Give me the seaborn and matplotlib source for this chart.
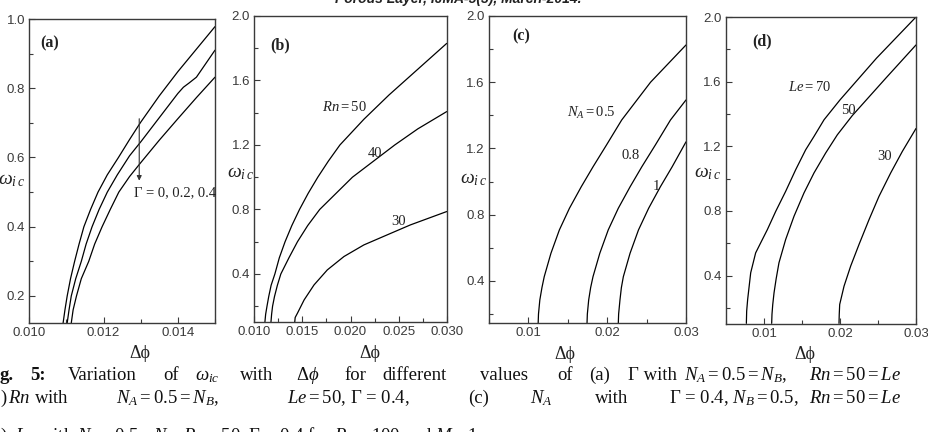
import numpy as np
import pandas as pd
import matplotlib
matplotlib.use("Agg")
import matplotlib.pyplot as plt
from matplotlib.ticker import MultipleLocator, FormatStrFormatter
import seaborn as sns

###############################################################
# values

# (a) Gamma = 0, 0.2, 0.4
a_x_g0 = [0.01091, 0.01096, 0.01102, 0.01111, 0.01122, 0.01134, 0.01147, 0.01165, 0.01185,
          0.0121, 0.0124, 0.0127, 0.0130, 0.0135, 0.0140, 0.0145, 0.0150]
a_y_g0 = [0.122, 0.16, 0.2, 0.25, 0.3, 0.35, 0.4, 0.45, 0.5,
          0.55, 0.6, 0.652, 0.702, 0.778, 0.848, 0.913, 0.978]
a_x_g2 = [0.01102, 0.01107, 0.01113, 0.01125, 0.0114, 0.01153, 0.01169, 0.01188, 0.0121,
          0.01237, 0.0127, 0.0130, 0.0135, 0.0140, 0.01415, 0.0143, 0.0145, 0.0150]
a_y_g2 = [0.122, 0.16, 0.2, 0.25, 0.3, 0.35, 0.4, 0.45, 0.5,
          0.55, 0.605, 0.645, 0.715, 0.785, 0.803, 0.815, 0.832, 0.91]
a_x_g4 = [0.01113, 0.01118, 0.01127, 0.0114, 0.0116, 0.01176, 0.01196, 0.01218, 0.01241,
          0.0127, 0.0130, 0.0135, 0.0140, 0.0145, 0.0150]
a_y_g4 = [0.122, 0.16, 0.2, 0.25, 0.3, 0.35, 0.4, 0.45, 0.5,
          0.545, 0.585, 0.65, 0.712, 0.773, 0.832]

# (b) Rn = 50, 40, 30
b_x_50 = [0.0111, 0.01118, 0.01132, 0.0115, 0.01175, 0.01214, 0.0126, 0.0132, 0.0139,
          0.0147, 0.0156, 0.0166, 0.0177, 0.0189, 0.0214, 0.0240, 0.0270, 0.0300]
b_y_50 = [0.1, 0.15, 0.2, 0.26, 0.33, 0.4, 0.5, 0.6, 0.7,
          0.8, 0.9, 1.0, 1.1, 1.2, 1.36, 1.51, 1.67, 1.83]
b_x_40 = [0.01173, 0.0118, 0.0119, 0.0121, 0.0124, 0.01276, 0.0136, 0.01449, 0.01555,
          0.0168, 0.0185, 0.0202, 0.0224, 0.0246, 0.0270, 0.0300]
b_y_40 = [0.1, 0.15, 0.2, 0.26, 0.33, 0.4, 0.5, 0.6, 0.7,
          0.8, 0.9, 1.0, 1.1, 1.2, 1.3, 1.407]
b_x_30 = [0.0142, 0.01425, 0.01449, 0.01518, 0.01621, 0.01759, 0.01932, 0.02139, 0.0238,
          0.02622, 0.0300]
b_y_30 = [0.1, 0.13, 0.157, 0.239, 0.332, 0.425, 0.508, 0.58, 0.642,
          0.704, 0.787]

# (c) N_A = 0.5, 0.8, 1
c_x_05 = [0.01124, 0.01128, 0.01145, 0.01172, 0.01201, 0.01286, 0.01393, 0.01521, 0.01671,
          0.01821, 0.01991, 0.02184, 0.0255, 0.0300]
c_y_05 = [0.146, 0.2, 0.285, 0.36, 0.426, 0.567, 0.708, 0.839, 0.969,
          1.09, 1.221, 1.372, 1.6, 1.825]
c_x_08 = [0.01744, 0.01748, 0.01765, 0.0179, 0.0182, 0.01906, 0.02013, 0.02141, 0.02291,
          0.0244, 0.02611, 0.02803, 0.0300]
c_y_08 = [0.146, 0.2, 0.285, 0.36, 0.426, 0.567, 0.708, 0.839, 0.969,
          1.09, 1.221, 1.372, 1.493]
c_x_10 = [0.02141, 0.02145, 0.02162, 0.0218, 0.02205, 0.0229, 0.02397, 0.02526, 0.02675,
          0.02825, 0.0300]
c_y_10 = [0.146, 0.2, 0.285, 0.36, 0.426, 0.567, 0.708, 0.839, 0.969,
          1.09, 1.24]

# (d) Le = 70, 50, 30
d_x_70 = [0.00768, 0.00772, 0.00785, 0.00825, 0.0089, 0.00956, 0.01044, 0.01154, 0.01285,
          0.01417, 0.01548, 0.01658, 0.0179, 0.0200, 0.0248, 0.0300]
d_y_70 = [0.104, 0.18, 0.252, 0.417, 0.54, 0.602, 0.684, 0.797, 0.921,
          1.055, 1.178, 1.261, 1.364, 1.487, 1.745, 2.0]
d_x_50 = [0.01101, 0.01105, 0.01115, 0.01132, 0.0116, 0.01197, 0.01285, 0.01395, 0.01526,
          0.01658, 0.01811, 0.01965, 0.02162, 0.0260, 0.0300]
d_y_50 = [0.104, 0.16, 0.22, 0.293, 0.38, 0.479, 0.623, 0.767, 0.911,
          1.035, 1.158, 1.271, 1.39, 1.62, 1.827]
d_x_30 = [0.01987, 0.0199, 0.01996, 0.02053, 0.0214, 0.0225, 0.02382, 0.02513, 0.02667,
          0.0282, 0.0300]
d_y_30 = [0.104, 0.16, 0.221, 0.334, 0.458, 0.592, 0.746, 0.89, 1.035,
          1.168, 1.31]

###############################################################
sns.set_style("ticks")
plt.rcParams["font.family"] = ["Liberation Sans", "DejaVu Sans"]
plt.rcParams["mathtext.fontset"] = "custom"
plt.rcParams["mathtext.rm"] = "Liberation Serif"
plt.rcParams["mathtext.it"] = "Liberation Serif:italic"
plt.rcParams["mathtext.bf"] = "Liberation Serif:bold"

SERIF = ["Liberation Serif", "DejaVu Serif"]
GREY = "#3a3a3a"

fig = plt.figure(figsize=(9.29, 4.32), dpi=100)
W, H = 929.0, 432.0


def add_axes(left, top, right, bottom):
    return fig.add_axes([left / W, 1 - bottom / H, (right - left) / W, (bottom - top) / H])


def style(ax, xlim, ylim, xmaj, xmin, ymaj, ymin, xfmt, yfmt, ylab_pos, xlab_pos):
    ax.set_xlim(xlim)
    ax.set_ylim(ylim)
    ax.xaxis.set_major_locator(MultipleLocator(xmaj))
    ax.xaxis.set_minor_locator(MultipleLocator(xmin))
    ax.yaxis.set_major_locator(MultipleLocator(ymaj))
    ax.yaxis.set_minor_locator(MultipleLocator(ymin))
    ax.xaxis.set_major_formatter(FormatStrFormatter(xfmt))
    ax.yaxis.set_major_formatter(FormatStrFormatter(yfmt))
    ax.tick_params(which="both", direction="in", top=False, right=False,
                   colors=GREY, labelsize=9.5, width=0.8)
    ax.tick_params(which="major", length=4, pad=3)
    ax.tick_params(which="minor", length=3)
    for s in ax.spines.values():
        s.set_color(GREY)
        s.set_linewidth(1.0)
    ax.set_ylabel(r"$\omega_{i\,c}$", rotation=0, fontsize=14, color="#222222")
    ax.yaxis.set_label_coords(*ylab_pos)
    ax.set_xlabel("Δϕ", fontsize=13, family=SERIF, color="#222222")
    ax.xaxis.set_label_coords(*xlab_pos)


def curve(ax, xs, ys):
    sns.lineplot(x=xs, y=ys, ax=ax, color="black", lw=0.9, sort=False, estimator=None)


def note(ax, x, y, s, size=10.5, **kw):
    ax.text(x, y, s, fontsize=size, family=SERIF, color="#222222", ha="left", va="center", **kw)


# (a)
ax = add_axes(29.3, 19, 215, 323)
for xs, ys in [(a_x_g0, a_y_g0), (a_x_g2, a_y_g2), (a_x_g4, a_y_g4)]:
    curve(ax, xs, ys)
style(ax, (0.010, 0.015), (0.122, 1.0), 0.002, 0.001, 0.2, 0.1, "%.3f", "%.1f",
      (-0.093, 0.44), (0.595, -0.074))
ax.annotate("", xy=(0.01296, 0.525), xytext=(0.01296, 0.72),
            arrowprops=dict(arrowstyle="-|>", lw=0.8, color="#333333", mutation_scale=7))
note(ax, 0.01029, 0.93, "(a)", size=11.5, weight="bold")
note(ax, 0.01281, 0.497, "Γ = 0, 0.2, 0.4", size=10.5)

# (b)
ax = add_axes(254.3, 16, 446.7, 322.3)
for xs, ys in [(b_x_50, b_y_50), (b_x_40, b_y_40), (b_x_30, b_y_30)]:
    curve(ax, xs, ys)
style(ax, (0.010, 0.030), (0.1, 2.0), 0.005, 0.0025, 0.4, 0.2, "%.3f", "%.1f",
      (-0.074, 0.458), (0.601, -0.074))
note(ax, 0.01163, 1.82, "(b)", size=11.5, weight="bold")
note(ax, 0.0170, 1.438, r"$Rn = 50$")
note(ax, 0.02182, 1.15, "40")
note(ax, 0.02428, 0.725, "30")

# (c)
ax = add_axes(489, 16, 686, 323)
for xs, ys in [(c_x_05, c_y_05), (c_x_08, c_y_08), (c_x_10, c_y_10)]:
    curve(ax, xs, ys)
style(ax, (0.005, 0.030), (0.146, 2.0), 0.01, 0.005, 0.4, 0.2, "%.2f", "%.1f",
      (-0.077, 0.44), (0.383, -0.074))
note(ax, 0.00794, 1.875, "(c)", size=11.5, weight="bold")
note(ax, 0.0149, 1.412, r"$N_{A} = 0.5$")
note(ax, 0.02182, 1.16, "0.8")
note(ax, 0.0258, 0.97, "1")

# (d)
ax = add_axes(726, 17, 916, 324)
for xs, ys in [(d_x_70, d_y_70), (d_x_50, d_y_50), (d_x_30, d_y_30)]:
    curve(ax, xs, ys)
style(ax, (0.005, 0.030), (0.1, 2.0), 0.01, 0.005, 0.4, 0.2, "%.2f", "%.1f",
      (-0.095, 0.463), (0.416, -0.072))
note(ax, 0.00851, 1.847, "(d)", size=11.5, weight="bold")
note(ax, 0.01316, 1.566, r"$Le = 70$")
note(ax, 0.0202, 1.42, "50")
note(ax, 0.02494, 1.137, "30")

# running header, cut by the top edge
fig.text(458 / W, 1 - 3 / H, "Porous Layer, IJMA-5(3), March-2014.", ha="center",
         va="baseline", fontsize=10, weight="bold", style="italic", color="#222222")

# caption lines (cut at the page edges)
line1 = [(-1, "g.", "bold"), (30, "5:", "bold"), (68, "Variation", "normal"), (163, "of", "normal"),
         (195, r"$\omega_{ic}$", "normal"), (240, "with", "normal"), (296, r"$\Delta\phi$", "normal"),
         (344, "for", "normal"), (382, "different", "normal"), (480, "values", "normal"),
         (557, "of", "normal"), (589, "(a)", "normal"), (628, "Γ with", "normal"),
         (684, r"$N_A = 0.5 = N_B$,", "normal"), (809, r"$Rn = 50 = Le$", "normal")]
line2 = [(0, r")$\,Rn$ with", "normal"), (116, r"$N_A = 0.5 = N_B$,", "normal"),
         (287, r"$Le = 50$, Γ = 0.4,", "normal"), (468, "(c)", "normal"), (530, r"$N_A$", "normal"),
         (595, "with", "normal"), (669, r"Γ = 0.4, $N_B = 0.5$,", "normal"),
         (809, r"$Rn = 50 = Le$", "normal")]
line3 = [(0, r")  $Le$ with $N_A = 0.5 = N_B$, $Rn = 50$, Γ = 0.4 for $Ra = 100$ and $M = 1$.", "normal")]

for base, words in [(380, line1), (403, line2), (441, line3)]:
    for xp, txt, wt in words:
        fig.text(xp / W, 1 - base / H, txt, ha="left", va="baseline", fontsize=13.5,
                 family=SERIF, weight=wt, color="#111111")

fig.savefig("out.png", dpi=100)
